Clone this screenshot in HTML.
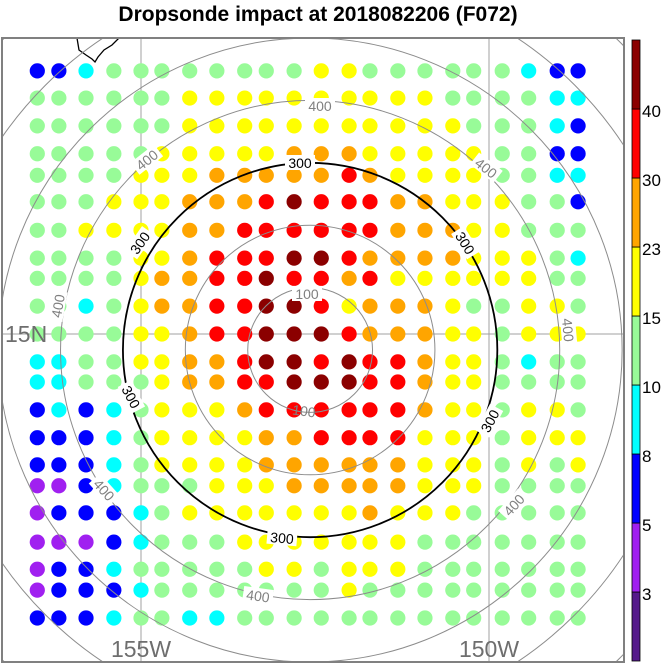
<!DOCTYPE html>
<html><head><meta charset="utf-8">
<style>
html,body{margin:0;padding:0;background:#fff;overflow:hidden;width:662px;height:664px;}
svg{display:block;font-family:"Liberation Sans",Arial,sans-serif;overflow:hidden;}
</style></head>
<body>
<svg id="chart" width="662" height="664" viewBox="0 0 662 664">
  <text x="318" y="21" text-anchor="middle" font-size="21" font-weight="bold">Dropsonde impact at 2018082206 (F072)</text>
  <defs><clipPath id="plotclip"><rect x="2" y="38" width="622" height="624"/></clipPath></defs>
  <g id="plot" clip-path="url(#plotclip)"></g>
  <rect x="2" y="38" width="622" height="624" fill="none" stroke="#808080" stroke-width="2"/>
  <g id="cbar"></g>
</svg>
<script>
// ---- data ----
const lons = [-156.49,-156.18,-155.79,-155.39,-155.00,-154.70,-154.30,-153.91,-153.51,-153.20,-152.80,-152.41,-152.01,-151.71,-151.31,-150.92,-150.52,-150.22,-149.81,-149.43,-149.02,-148.72];
const lats = [18.78,18.39,17.99,17.59,17.28,16.90,16.49,16.09,15.80,15.40,15.00,14.60,14.31,13.91,13.51,13.12,12.82,12.43,12.01,11.62,11.32,10.92];
const levels = [3,5,8,10,15,23,30,40];
const levelLabels = ["3","5","8","10","15","23","30","40"];
const colors = ["#551a8b","#a020f0","#0000ff","#00ffff","#98fb98","#ffff00","#ffa500","#ff0000","#8b0000"];
const rowsCode = [
"BBCGGGGGGGGYYGGGGGGCBB",
"GGGGGGYYYYYYYYYYGGGGCC",
"GGGGGGYYYYYYYYYYYGGGCB",
"GGGGGYYYYYOOOYYYYYGGBB",
"GGGGYYYOOOOOROYYYYGGCC",
"GGGYYYOOORDRRROOYYYGGB",
"GGYYYYOORRRRRROOOYYGGG",
"GGGGYYORRRDDROOOOYYYGC",
"GGGGYOORRDRRORYYYYYYGG",
"GGCGYOORRDDRYOOOYGGYYG",
"GGGGYYORRDDDROOOYYGYYY",
"CCGGYYOORDDRDRROYYGCGG",
"CCGGGYOORRDDDRROYYGGGG",
"BCBCGYYYORRRRRROYYGYYG",
"BBBCGYYYYOORRRRYYYGYYY",
"BBBCGYYYYOOOOOOYYYGYGY",
"PPBCGGGYYYOOOOOYYYGGGG",
"PBBBCGYYYYYYYOYYYGGGGG",
"PPPBCGGGYYYYYYYGGGGGGG",
"PBBCGGGGGYYGYYYGGGGGGG",
"PBBBCGGGGGGGYGGGGGGGGG",
"BBBCGGCCGGGGGGGGGGGGGG"
];
const codeVal = {P:4,B:6,C:9,G:12,Y:18,O:26,R:35,D:45};
const values = rowsCode.map(r => r.split('').map(c => codeVal[c]));
const ringKm = [100,200,300,400,500,600,700];
const centerLon = -152.57, centerLat = 14.77;

// ---- axes ----
const pxPerDeg = 69.6;
const xOf = lon => 141 + (lon + 155) * pxPerDeg;
const yOf = lat => 334 - (lat - 15) * pxPerDeg;
const rOf = km => km * 0.624;
const NS = "http://www.w3.org/2000/svg";
function mk(tag, attrs, parent){const e=document.createElementNS(NS,tag);for(const k in attrs)e.setAttribute(k,attrs[k]);parent.appendChild(e);return e;}
function colorOf(v){let i=0;while(i<levels.length && v>=levels[i])i++;return colors[i];}

const plot = document.getElementById('plot');
const gl1 = mk('line',{x1:xOf(-155),x2:xOf(-155),y1:38,y2:662,stroke:'#a0a0a0','stroke-width':1},plot);


const gl2 = mk('line',{x1:xOf(-150),x2:xOf(-150),y1:38,y2:662,stroke:'#a0a0a0','stroke-width':1},plot);


const gl3 = mk('line',{x1:2,x2:624,y1:yOf(15),y2:yOf(15),stroke:'#a0a0a0','stroke-width':1},plot);


const isl = mk('path',{d:'M77,38 L79,50 L86,55 L92,59 L95,62 L98,57 L104,50 L112,45 L119,38',fill:'none',stroke:'#000','stroke-width':1.3},plot);


const cx0 = xOf(centerLon), cy0 = yOf(centerLat);
values.forEach((row, i) => row.forEach((v, j) => {
  const c = mk('circle',{cx:xOf(lons[j]),cy:yOf(lats[i]),r:7.6,fill:colorOf(v)},plot);
  
  
}));
ringKm.forEach(km => {
  const c = mk('circle',{cx:cx0,cy:cy0,r:rOf(km),fill:'none',stroke:km===300?'#000':'#8c8c8c','stroke-width':km===300?1.8:1},plot);
  
  
});
const ringLabels = [
 [300,163,0,'300','#000',1],[465,243,58,'300','#000',1],[140,243,-55,'300','#000',1],
 [131,397,62,'300','#000',1],[490,421,-62,'300','#000',1],[282,538,5,'300','#000',1],
 [320,106,0,'400','#808080',1],[147,160,-38,'400','#808080',1],[486,168,38,'400','#808080',1],
 [58,306,-80,'400','#808080',1],[568,330,85,'400','#808080',1],[104,490,48,'400','#808080',1],
 [514,505,-48,'400','#808080',1],[258,596,8,'400','#808080',1],
 [307,294,0,'100','#808080',1],[304,411,8,'100','#808080',0]
];
ringLabels.forEach(l => {
  const g = mk('g',{transform:`translate(${l[0]},${l[1]}) rotate(${l[2]})`},plot);
  if (l[5]) {
    const bg = mk('rect',{x:-15,y:-8,width:30,height:15,fill:'#fff'},g);
    
    
  }
  const t = mk('text',{x:0,y:5,'text-anchor':'middle','font-size':14,fill:l[4]},g);
  t.textContent = l[3];
  
  
});
const svg = document.getElementById('chart');
[[5,342,'start','15N','lat-label-15n'],[xOf(-155),657,'middle','155W','lon-label-155w'],[xOf(-150),657,'middle','150W','lon-label-150w']].forEach(a=>{
  const t = mk('text',{x:a[0],y:a[1],'text-anchor':a[2],'font-size':23,fill:'#6e6e6e'},svg);
  t.textContent = a[3];
  
  
});
const cb = document.getElementById('cbar');
const cbTop = 40, cbBot = 661, nBox = colors.length, boxH = (cbBot-cbTop)/nBox;
colors.forEach((c, k) => {
  const y = cbBot - (k+1)*boxH;
  const r = mk('rect',{x:632,y:y,width:8,height:boxH,fill:c,stroke:'#000','stroke-width':0.8},cb);
  
  
});
levelLabels.forEach((lab, k) => {
  const y = cbBot - (k+1)*boxH;
  const t = mk('text',{x:642,y:y+8,'font-size':17,fill:'#000'},cb);
  t.textContent = lab;
  
  
});
</script>
</body></html>
